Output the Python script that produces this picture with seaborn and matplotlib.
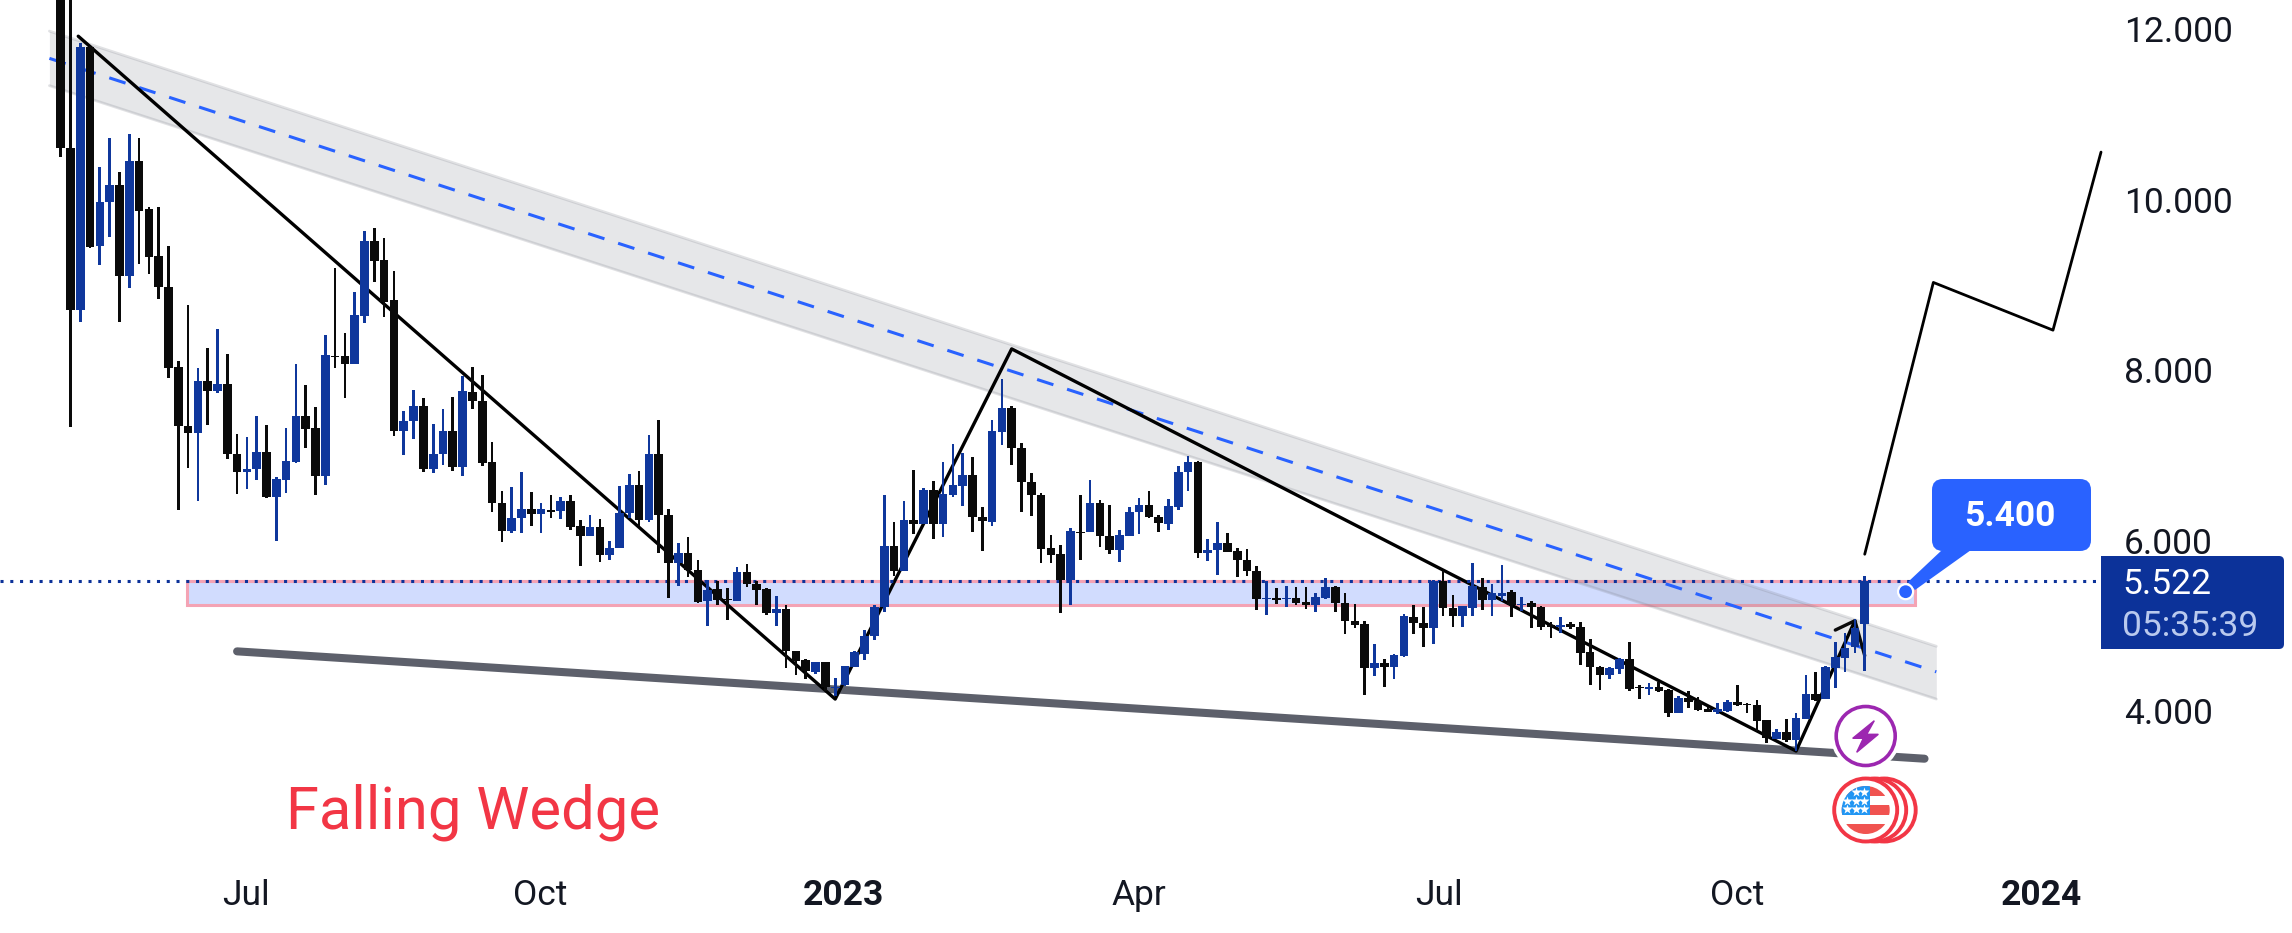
# ==========================================================
# FALLING WEDGE CANDLESTICK CHART
# ==========================================================

import numpy as np
import pandas as pd
import matplotlib
matplotlib.use("Agg")
import matplotlib.pyplot as plt
import seaborn as sns
from matplotlib.patches import Circle, FancyBboxPatch, Polygon, Rectangle

# ==========================================================
# DATA
# ==========================================================

bar_open = [
    13.0, 10.61, 8.71, 11.79, 9.46, 9.98, 10.17, 9.11, 10.46, 9.89,
    9.34, 8.98, 8.04, 7.35, 7.26, 7.87, 7.76, 7.84, 7.02, 6.81,
    6.84, 7.04, 6.51, 6.71, 6.92, 7.46, 7.32, 6.76, 8.17, 8.17,
    8.07, 8.64, 9.52, 9.29, 8.82, 7.29, 7.40, 7.58, 6.84, 7.02,
    7.29, 6.86, 7.75, 7.64, 6.92, 6.44, 6.11, 6.27, 6.37, 6.31,
    6.36, 6.35, 6.47, 6.17, 6.05, 6.16, 5.83, 5.91, 6.32, 6.65,
    6.24, 7.02, 6.30, 5.74, 5.86, 5.66, 5.29, 5.43, 5.31, 5.29,
    5.63, 5.49, 5.43, 5.15, 5.20, 4.70, 4.60, 4.46, 4.57, 4.27,
    4.31, 4.52, 4.67, 4.88, 5.22, 5.94, 5.64, 6.24, 6.19, 6.59,
    6.19, 6.54, 6.64, 6.77, 6.28, 6.22, 7.28, 7.56, 7.09, 6.69,
    6.54, 5.91, 5.84, 5.54, 6.10, 6.10, 6.44, 6.05, 5.89, 6.05,
    6.33, 6.42, 6.28, 6.20, 6.40, 6.81, 6.92, 5.85, 5.89, 5.97,
    5.88, 5.77, 5.64, 5.32, 5.33, 5.32, 5.33, 5.28, 5.24, 5.33,
    5.45, 5.27, 5.06, 5.02, 4.51, 4.56, 4.52, 4.64, 5.10, 5.03,
    4.98, 5.52, 5.21, 5.11, 5.21, 5.455, 5.30, 5.35, 5.40, 5.24,
    5.27, 5.22, 5.01, 4.99, 5.02, 4.99, 4.69, 4.52, 4.42, 4.49,
    4.61, 4.28, 4.26, 4.28, 4.25, 3.98, 4.15, 4.12, 4.02, 3.99,
    4.00, 4.10, 4.08, 4.07, 3.89, 3.67, 3.75, 3.66, 3.91, 4.20,
    4.14, 4.51, 4.62, 4.75, 5.02,
]
bar_high = [
    13.2, 13.0, 11.84, 11.80, 10.39, 10.72, 10.33, 10.77, 10.72, 9.91,
    9.92, 9.46, 8.11, 8.77, 8.02, 8.26, 8.48, 8.19, 7.25, 7.22,
    7.46, 7.36, 6.75, 7.32, 8.07, 7.83, 7.57, 8.41, 9.20, 8.44,
    8.92, 9.63, 9.67, 9.55, 9.17, 7.52, 7.77, 7.67, 7.37, 7.55,
    7.68, 7.93, 8.04, 7.94, 7.16, 6.58, 6.63, 6.80, 6.57, 6.44,
    6.54, 6.51, 6.54, 6.24, 6.30, 6.25, 5.99, 6.64, 6.78, 6.82,
    7.24, 7.41, 6.37, 5.97, 6.04, 5.77, 5.54, 5.53, 5.44, 5.69,
    5.73, 5.53, 5.44, 5.35, 5.25, 4.71, 4.61, 4.57, 4.58, 4.39,
    4.53, 4.71, 4.95, 5.24, 6.53, 6.22, 6.47, 6.83, 6.62, 6.70,
    6.92, 7.13, 7.03, 6.98, 6.39, 7.42, 7.90, 7.58, 7.15, 6.79,
    6.56, 6.07, 5.95, 6.15, 6.54, 6.71, 6.48, 6.42, 6.12, 6.39,
    6.50, 6.58, 6.30, 6.49, 6.87, 6.99, 6.94, 6.02, 6.22, 6.09,
    5.91, 5.90, 5.70, 5.53, 5.44, 5.47, 5.45, 5.46, 5.38, 5.56,
    5.47, 5.38, 5.26, 5.06, 4.79, 4.61, 4.67, 5.14, 5.24, 5.22,
    5.54, 5.64, 5.36, 5.23, 5.74, 5.56, 5.49, 5.71, 5.42, 5.34,
    5.29, 5.23, 5.05, 5.10, 5.04, 5.05, 4.84, 4.53, 4.52, 4.62,
    4.81, 4.31, 4.33, 4.34, 4.26, 4.18, 4.23, 4.17, 4.05, 4.09,
    4.13, 4.30, 4.09, 4.13, 3.90, 3.79, 3.91, 3.98, 4.42, 4.46,
    4.53, 4.81, 4.91, 5.08, 5.59,
]
bar_low = [
    10.50, 7.33, 8.56, 9.44, 9.23, 9.56, 8.57, 8.97, 9.25, 9.13,
    8.84, 7.91, 6.36, 6.85, 6.47, 7.36, 7.73, 6.96, 6.55, 6.60,
    6.71, 6.50, 6.00, 6.56, 6.91, 7.09, 6.53, 6.65, 8.03, 7.67,
    8.07, 8.55, 9.03, 8.63, 7.23, 7.01, 7.19, 6.80, 6.79, 6.89,
    6.82, 6.76, 7.55, 6.88, 6.33, 5.98, 6.09, 6.09, 6.17, 6.09,
    6.27, 6.25, 6.13, 5.70, 6.05, 5.75, 5.77, 5.91, 6.27, 6.17,
    6.22, 5.86, 5.33, 5.47, 5.57, 5.27, 5.00, 5.24, 5.07, 5.29,
    5.45, 5.24, 5.13, 5.00, 4.51, 4.42, 4.37, 4.43, 4.24, 4.18,
    4.29, 4.52, 4.60, 4.83, 5.16, 5.585, 5.64, 6.08, 6.19, 6.02,
    6.04, 6.51, 6.41, 6.10, 5.88, 6.17, 7.125, 6.89, 6.34, 6.29,
    5.74, 5.74, 5.15, 5.24, 5.77, 6.10, 5.92, 5.84, 5.75, 6.05,
    6.08, 6.26, 6.10, 6.12, 6.36, 6.58, 5.79, 5.76, 5.60, 5.87,
    5.57, 5.59, 5.18, 5.13, 5.26, 5.22, 5.24, 5.20, 5.16, 5.31,
    5.16, 4.90, 4.98, 4.19, 4.41, 4.28, 4.38, 4.63, 4.90, 4.75,
    4.79, 5.12, 4.99, 4.99, 5.11, 5.18, 5.11, 5.29, 5.10, 5.17,
    4.97, 4.95, 4.86, 4.92, 4.96, 4.54, 4.31, 4.25, 4.38, 4.43,
    4.24, 4.14, 4.19, 4.22, 3.93, 3.98, 4.03, 4.00, 3.99, 3.97,
    3.99, 4.06, 3.98, 3.76, 3.63, 3.67, 3.64, 3.53, 3.91, 4.12,
    4.14, 4.27, 4.46, 4.68, 4.47,
]
bar_close = [
    10.61, 8.71, 11.79, 9.45, 9.98, 10.17, 9.11, 10.46, 9.87, 9.33,
    8.98, 8.03, 7.35, 7.26, 7.87, 7.76, 7.84, 7.02, 6.81, 6.84,
    7.04, 6.51, 6.72, 6.93, 7.46, 7.31, 6.76, 8.18, 8.16, 8.07,
    8.65, 9.52, 9.28, 8.80, 7.29, 7.40, 7.58, 6.84, 7.02, 7.29,
    6.86, 7.75, 7.64, 6.91, 6.44, 6.11, 6.27, 6.37, 6.31, 6.37,
    6.34, 6.47, 6.16, 6.05, 6.16, 5.83, 5.91, 6.32, 6.65, 6.24,
    7.02, 6.30, 5.74, 5.86, 5.66, 5.28, 5.42, 5.30, 5.30, 5.63,
    5.49, 5.42, 5.15, 5.20, 4.70, 4.59, 4.47, 4.57, 4.28, 4.28,
    4.53, 4.69, 4.88, 5.22, 5.94, 5.64, 6.24, 6.19, 6.59, 6.19,
    6.55, 6.65, 6.77, 6.28, 6.23, 7.29, 7.56, 7.09, 6.69, 6.53,
    5.90, 5.83, 5.54, 6.11, 6.09, 6.44, 6.05, 5.89, 6.06, 6.34,
    6.42, 6.28, 6.21, 6.41, 6.81, 6.92, 5.85, 5.89, 5.97, 5.87,
    5.77, 5.64, 5.31, 5.33, 5.30, 5.33, 5.27, 5.25, 5.34, 5.45,
    5.27, 5.06, 5.01, 4.51, 4.56, 4.52, 4.66, 5.12, 5.03, 4.98,
    5.52, 5.21, 5.11, 5.23, 5.47, 5.30, 5.385, 5.39, 5.24, 5.26,
    5.22, 4.99, 4.99, 5.01, 4.99, 4.68, 4.52, 4.42, 4.50, 4.61,
    4.26, 4.27, 4.28, 4.24, 3.98, 4.15, 4.11, 4.01, 3.99, 4.02,
    4.11, 4.07, 4.07, 3.88, 3.68, 3.75, 3.66, 3.92, 4.20, 4.13,
    4.52, 4.63, 4.74, 4.97, 5.522,
]

# x axis labels, position counted in bars
tick_bars = [18.9, 48.9, 79.8, 110, 140.6, 171, 202]
tick_names = ["Jul", "Oct", "2023", "Apr", "Jul", "Oct", "2024"]
price_ticks = [4, 6, 8, 10, 12]

# drawn objects: (bar, price)
channel_bars = [-1.14, 191.3]
channel_upper = [11.98, 4.76]
channel_mid = [11.66, 4.46]
channel_lower = [11.34, 4.14]
wedge_bars = [18, 190.1]
wedge_price = [4.70, 3.44]
zigzag_bars = [1.8, 79, 97, 177, 183]
zigzag_price = [11.92, 4.14, 8.25, 3.53, 5.06]
stroke_bars = [181, 183, 184]
stroke_price = [4.95, 5.06, 4.65]
target_bars = [184, 191, 203.2, 208.1]
target_price = [5.84, 9.03, 8.47, 10.56]
zone_bars = [12.9, 189.1]
zone_price = [5.24, 5.53]
last_price = 5.522

BLUE = "#0f379c"
BLACK = "#0a0a0a"
ACCENT = "#2962ff"
NAVY = "#0c3299"
RED = "#f23645"
PURPLE = "#9c27b0"

# ==========================================================
# FIGURE SETUP
# ==========================================================

sns.set_theme(style="white")
plt.rcParams["font.family"] = ["Roboto", "DejaVu Sans"]

W, H = 2292, 933
fig = plt.figure(figsize=(W / 100, H / 100), dpi=100)
pane_right, pane_bottom = 2103, 860
ax = fig.add_axes([0, 1 - pane_bottom / H, pane_right / W, pane_bottom / H])

df = pd.DataFrame({
    "bar": np.arange(len(bar_open)),
    "open": bar_open,
    "high": bar_high,
    "low": bar_low,
    "close": bar_close,
})
df["top"] = df[["open", "close"]].max(axis=1)
df["bottom"] = df[["open", "close"]].min(axis=1)
df["up"] = df["close"] > df["open"]


def draw_line(xs, ys, color, width, zorder, **kws):
    sns.lineplot(x=xs, y=ys, color=color, linewidth=width, sort=False,
                 estimator=None, zorder=zorder, legend=False, ax=ax, **kws)


# ==========================================================
# ZONE, CHANNEL, WEDGE, TREND LINES
# ==========================================================

ax.add_patch(Rectangle((zone_bars[0], zone_price[0]), zone_bars[1] - zone_bars[0],
                       zone_price[1] - zone_price[0], facecolor="#d1dcfe",
                       edgecolor="#f4a3b4", linewidth=2.2, zorder=1))

ax.fill_between(channel_bars, channel_lower, channel_upper,
                color="#787b86", alpha=0.18, linewidth=0, zorder=2)
draw_line(channel_bars, channel_upper, "#787b86", 2.0, 2, alpha=0.22)
draw_line(channel_bars, channel_lower, "#787b86", 2.0, 2, alpha=0.22)
draw_line(channel_bars, channel_mid, ACCENT, 2.2, 3, linestyle=(0, (5.6, 4.7)))

draw_line(wedge_bars, wedge_price, "#5d606b", 5.8, 3, solid_capstyle="round")

draw_line(zigzag_bars, zigzag_price, "black", 2.4, 3)
draw_line(stroke_bars, stroke_price, BLACK, 2.4, 3)
draw_line(target_bars, target_price, "black", 2.0, 3)

ax.axhline(last_price, color=NAVY, linewidth=2.2, linestyle=(0, (1, 2.2)), zorder=3)

# ==========================================================
# CANDLES
# ==========================================================

for up, color in [(True, BLUE), (False, BLACK)]:
    sub = df[df["up"] == up]
    # wicks then bodies
    sns.barplot(x=sub["bar"].to_numpy(), y=(sub["high"] - sub["low"]).to_numpy(),
                bottom=sub["low"].to_numpy(), native_scale=True, width=0.27,
                color=color, saturation=1, errorbar=None, linewidth=0,
                zorder=4, ax=ax)
    sns.barplot(x=sub["bar"].to_numpy(), y=(sub["top"] - sub["bottom"]).to_numpy(),
                bottom=sub["bottom"].to_numpy(), native_scale=True, width=0.88,
                color=color, saturation=1, errorbar=None, linewidth=0,
                zorder=4, ax=ax)

# ==========================================================
# AXES
# ==========================================================

ax.set_xlim(-60.6 / 9.805, (pane_right - 60.6) / 9.805)
ax.set_ylim(4 - (pane_bottom - 711) / 85.2, 4 + 711 / 85.2)

ax.yaxis.tick_right()
ax.set_yticks(price_ticks)
ax.set_yticklabels([f"{p:.3f}" for p in price_ticks])
ax.tick_params(axis="y", length=0, pad=15, labelsize=25.5, labelcolor="#131722", right=False)
ax.set_xticks(tick_bars)
ax.set_xticklabels(tick_names)
ax.tick_params(axis="x", length=0, pad=14, labelsize=25.5, labelcolor="#131722", bottom=False)
for label in ax.get_xticklabels():
    if label.get_text().startswith("20"):
        label.set_fontweight("bold")
ax.set_xlabel("")
ax.set_ylabel("")
sns.despine(ax=ax, left=True, bottom=True, right=True, top=True)
ax.grid(False)

# ==========================================================
# OVERLAY: LABELS AND ICONS (pixel coordinates)
# ==========================================================

ov = fig.add_axes([0, 0, 1, 1])
ov.set_xlim(0, W)
ov.set_ylim(H, 0)
ov.axis("off")
ov.patch.set_visible(False)

ov.text(286, 812, "Falling Wedge", color=RED, fontsize=43, va="center", ha="left")

# last price tag
ov.add_patch(Rectangle((2101, 556), 20, 93, facecolor=NAVY, edgecolor="none"))
ov.add_patch(FancyBboxPatch((2110, 556), 174, 93, boxstyle="round,pad=0,rounding_size=5",
                            facecolor=NAVY, edgecolor="none"))
ov.text(2122, 585, f"{last_price:.3f}", color="white", fontsize=25.5, va="center", ha="left")
ov.text(2122, 626, "05:35:39", color="#b9c9ee", fontsize=25.5, va="center", ha="left")

# 5.400 callout
ov.add_patch(FancyBboxPatch((1932, 479), 159, 72, boxstyle="round,pad=0,rounding_size=11",
                            facecolor=ACCENT, edgecolor="none", zorder=3))
ov.add_patch(Polygon([(1942, 550), (1971, 550), (1915, 590), (1908, 582)],
                     facecolor=ACCENT, edgecolor="none", zorder=3))
ov.add_patch(Circle((1905.6, 591.7), 7.5, facecolor=ACCENT, edgecolor="white", linewidth=1.6, zorder=4))
ov.text(2010, 517, "5.400", color="white", fontsize=25.5, fontweight="bold",
        va="center", ha="center", zorder=5)

# lightning icon
ov.add_patch(Circle((1865.7, 736), 35, facecolor="white", edgecolor="none"))
ov.add_patch(Circle((1865.7, 736), 29.5, facecolor="white", edgecolor=PURPLE, linewidth=2.6))
ov.add_patch(Polygon([(1874.3, 720.7), (1852.7, 738.3), (1863.3, 738.3), (1856.7, 752.3),
                      (1878.3, 734.3), (1866.7, 734.3)],
                     facecolor=PURPLE, edgecolor=PURPLE, linewidth=1))

# flag icon
for shift in [18.5, 9, 0]:
    ov.add_patch(Circle((1865.7 + shift, 810), 31.5, facecolor="white", edgecolor=RED, linewidth=2.8))
flag = Circle((1865.7, 810), 24, transform=ov.transData)
for y0, y1 in [(786, 796), (805, 815), (823.5, 835)]:
    stripe = Rectangle((1840, y0), 55, y1 - y0, facecolor="#f05350", edgecolor="none")
    ov.add_patch(stripe)
    stripe.set_clip_path(flag)
canton = Rectangle((1840, 785), 30, 30, facecolor="#2196f3", edgecolor="none")
ov.add_patch(canton)
canton.set_clip_path(flag)
star_x = [1855.7, 1864, 1847.3, 1855.7, 1864, 1847.3, 1855.7, 1864]
star_y = [791.7, 791.7, 800.7, 800.7, 800.7, 808.7, 808.7, 808.7]
ov.plot(star_x, star_y, linestyle="none", marker="*", markersize=7.5,
        markerfacecolor="white", markeredgecolor="none")

fig.savefig("out.png", dpi=100, facecolor="white")
